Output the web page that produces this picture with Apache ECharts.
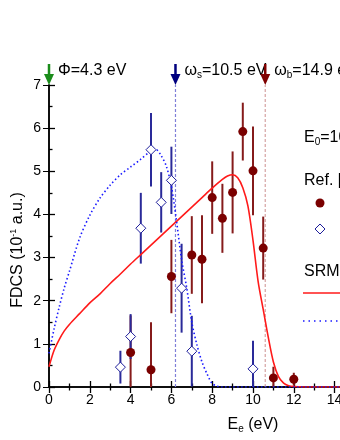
<!DOCTYPE html>
<html>
<head>
<meta charset="utf-8">
<title>FDCS</title>
<script src="https://cdn.jsdelivr.net/npm/echarts@6/dist/echarts.min.js"></script>
<style>
  html, body { margin: 0; padding: 0; background: #fff; overflow: hidden; }
  #chart { width: 480px; height: 440px; }
</style>
</head>
<body>
<div id="chart"></div>
<script>
// experiment, Ref. (filled circles)
const refAX = [4, 5, 6, 7, 7.5, 8, 8.5, 9, 9.5, 10, 10.5, 11, 12];
const refAY = [0.8, 0.4, 2.56, 3.06, 2.96, 4.39, 3.91, 4.51, 5.92, 5.01, 3.22, 0.21, 0.18];
const refAErr = [0.86, 1.1, 0.85, 0.9, 1.02, 0.84, 0.8, 0.95, 0.67, 1.03, 0.73, 0.26, 0.15];

// experiment, open diamonds
const refBX = [3.5, 4, 4.5, 5, 5.5, 6, 6.5, 7, 10];
const refBY = [0.46, 1.17, 3.68, 5.5, 4.28, 4.79, 2.29, 0.83, 0.42];
const refBErr = [0.38, 0.52, 0.82, 0.85, 0.7, 0.78, 1.03, 0.82, 0.65];

// SRM, solid red
const srmX = [0, 0.25, 0.5, 0.75, 1, 1.5, 2, 2.5, 3, 3.5, 4, 4.5, 5, 5.5, 6, 6.5, 7, 7.5, 8, 8.5, 8.75, 9, 9.25, 9.5, 9.75, 10, 10.25, 10.5, 10.75, 11, 11.25, 11.5, 11.75, 12, 12.5, 14, 20];
const srmY = [0.47, 0.85, 1.1, 1.3, 1.45, 1.7, 1.95, 2.16, 2.4, 2.62, 2.85, 3.07, 3.29, 3.51, 3.73, 3.95, 4.17, 4.39, 4.61, 4.81, 4.89, 4.92, 4.85, 4.62, 4.2, 3.4, 2.45, 1.8, 1.15, 0.58, 0.24, 0.09, 0.03, 0.01, 0, 0, 0];

// second model, blue dotted
const dotX = [0, 0.25, 0.5, 0.75, 1, 1.5, 2, 2.5, 3, 3.5, 4, 4.5, 5, 5.25, 5.5, 5.75, 6, 6.25, 6.5, 6.75, 7, 7.25, 7.5, 7.75, 8, 8.25, 8.5, 10, 20];
const dotY = [0.78, 1.35, 1.85, 2.3, 2.68, 3.45, 3.98, 4.38, 4.68, 4.92, 5.1, 5.28, 5.47, 5.5, 5.36, 5.12, 4.65, 3.85, 2.95, 2.3, 1.5, 0.98, 0.58, 0.3, 0.08, 0.02, 0, 0, 0];

// thresholds (E - 4.3 eV), arrows on top
const markX = [0, 6.2, 10.6];
const markLabels = ['Φ=4.3 eV', '{w|ω}{sub|s}=10.5 eV', '{w|ω}{sub|b}=14.9 eV'];
const markColors = ['#1a8c1a', '#00007f', '#7f0000'];
const lineColors = [null, '#7f7fd8', '#d4a2a2'];

const FONT = 'Liberation Sans, Arial, sans-serif';
const rich = {
  w: { fontSize: 16, fontFamily: FONT, color: '#000' },
  sub: { fontSize: 10, fontFamily: FONT, color: '#000', padding: [9, 0, 0, 0] }
};

const chart = echarts.init(document.getElementById('chart'));

function pairs (xs, ys) {
  return xs.map((x, i) => [x, ys[i]]);
}

function errorBars (xs, ys, errs, color) {
  return {
    type: 'custom',
    data: xs.map((x, i) => [x, ys[i] - errs[i], ys[i] + errs[i]]),
    encode: { x: 0, y: [1, 2] },
    clip: true,
    z: 3,
    renderItem (params, api) {
      const hi = api.coord([api.value(0), api.value(2)]);
      const lo = api.coord([api.value(0), Math.max(api.value(1), 0)]);
      return {
        type: 'line',
        shape: { x1: hi[0], y1: hi[1], x2: lo[0], y2: lo[1] },
        style: { stroke: color, lineWidth: 2 }
      };
    }
  };
}

const series = [];

// dashed verticals at the thresholds
markX.forEach((x, i) => {
  if (!lineColors[i]) return;
  series.push({
    type: 'line',
    data: [[x, 0], [x, 7]],
    showSymbol: false,
    silent: true,
    z: 1,
    lineStyle: { color: lineColors[i], width: 1.2, type: [3, 2] }
  });
});

series.push({
  type: 'line',
  data: pairs(srmX, srmY),
  smooth: 0.3,
  showSymbol: false,
  z: 4,
  lineStyle: { color: '#ff1a1a', width: 1.6 }
});

series.push({
  type: 'line',
  data: pairs(dotX, dotY),
  smooth: 0.3,
  showSymbol: false,
  z: 5,
  lineStyle: { color: '#1a1aff', width: 1.6, type: [1.5, 2.5] }
});

series.push(errorBars(refAX, refAY, refAErr, '#861b1b'));
series.push(errorBars(refBX, refBY, refBErr, '#2a2a99'));

series.push({
  type: 'scatter',
  data: pairs(refAX, refAY),
  symbol: 'circle',
  symbolSize: 9,
  z: 6,
  itemStyle: { color: '#7a0000', opacity: 1 }
});

series.push({
  type: 'scatter',
  data: pairs(refBX, refBY),
  symbol: 'diamond',
  symbolSize: [10, 10],
  z: 6,
  itemStyle: { color: '#fff', borderColor: '#1c1c9a', borderWidth: 1, opacity: 1 }
});

// arrows above the frame
series.push({
  type: 'custom',
  data: markX.map((x, i) => [x, i]),
  clip: false,
  z: 10,
  renderItem (params, api) {
    const i = api.value(1);
    const p = api.coord([api.value(0), 7]);
    const c = markColors[i];
    return {
      type: 'group',
      children: [
        { type: 'line', shape: { x1: p[0], y1: p[1] - 21, x2: p[0], y2: p[1] - 9 }, style: { stroke: c, lineWidth: 2.5 } },
        { type: 'polygon', shape: { points: [[p[0] - 5, p[1] - 11], [p[0] + 5, p[1] - 11], [p[0], p[1]]] }, style: { fill: c } },
        { type: 'text', x: p[0] + 9, y: p[1] - 14,
          style: { text: markLabels[i], rich: rich, font: '16px ' + FONT, fill: '#000', verticalAlign: 'middle' } }
      ]
    };
  }
});

const axisLine = { lineStyle: { color: '#000', width: 1.5 } };

const option = {
  animation: false,
  textStyle: { fontFamily: FONT },
  grid: { left: 49, top: 85, width: 408, height: 302 },
  xAxis: [
    {
      type: 'value', min: 0, max: 20, interval: 2, position: 'bottom',
      axisLine: axisLine,
      axisTick: { inside: true, length: 6, lineStyle: { color: '#000', width: 1.3 } },
      minorTick: { show: true, splitNumber: 2, length: 3.5, lineStyle: { color: '#000', width: 1.3 } },
      splitLine: { show: false },
      axisLabel: { fontSize: 14, color: '#000', margin: 6 },
      name: 'E{sub|e} (eV)',
      nameLocation: 'middle',
      nameGap: 28,
      nameTextStyle: { fontSize: 16, color: '#000', rich: rich }
    },
    {
      type: 'value', min: 0, max: 20, interval: 2, position: 'top',
      axisLine: axisLine,
      axisTick: { inside: true, length: 6, lineStyle: { color: '#000', width: 1.3 } },
      minorTick: { show: true, splitNumber: 2, length: 3.5, lineStyle: { color: '#000', width: 1.3 } },
      splitLine: { show: false },
      axisLabel: { show: false }
    }
  ],
  yAxis: [
    {
      type: 'value', min: 0, max: 7, interval: 1, position: 'left',
      axisLine: axisLine,
      axisTick: { inside: true, length: 6, lineStyle: { color: '#000', width: 1.3 } },
      minorTick: { show: true, splitNumber: 2, length: 3.5, lineStyle: { color: '#000', width: 1.3 } },
      splitLine: { show: false },
      axisLabel: { fontSize: 14, color: '#000', margin: 8 }
    },
    {
      type: 'value', min: 0, max: 7, interval: 1, position: 'right',
      axisLine: axisLine,
      axisTick: { inside: true, length: 6 },
      splitLine: { show: false },
      axisLabel: { show: false }
    }
  ],
  graphic: [
    {
      type: 'text', x: 18, y: 250, rotation: Math.PI / 2,
      style: {
        text: 'FDCS (10{sup|-1} a.u.)', font: '16px ' + FONT, fill: '#000',
        align: 'center', verticalAlign: 'middle',
        rich: { sup: { fontSize: 9, fontFamily: FONT, padding: [0, 0, 8, 0] } }
      }
    },
    // legend block (partly outside the window)
    { type: 'text', x: 304, y: 138, style: { text: 'E{sub|0}=100 eV', rich: rich, font: '16px ' + FONT, fill: '#000', verticalAlign: 'middle' } },
    { type: 'text', x: 304, y: 181, style: { text: 'Ref. [ ]', font: '16px ' + FONT, fill: '#000', verticalAlign: 'middle' } },
    { type: 'circle', shape: { cx: 320, cy: 203, r: 4.5 }, style: { fill: '#7a0000' } },
    { type: 'polygon', shape: { points: [[320, 224], [325, 229], [320, 234], [315, 229]] }, style: { fill: '#fff', stroke: '#1c1c9a', lineWidth: 1 } },
    { type: 'text', x: 304, y: 272, style: { text: 'SRM', font: '16px ' + FONT, fill: '#000', verticalAlign: 'middle' } },
    { type: 'line', shape: { x1: 303, y1: 293, x2: 340, y2: 293 }, style: { stroke: '#ff1a1a', lineWidth: 1.6 } },
    { type: 'line', shape: { x1: 303, y1: 321, x2: 340, y2: 321 }, style: { stroke: '#1a1aff', lineWidth: 1.6, lineDash: [1.5, 4] } }
  ],
  series: series
};

chart.setOption(option);
</script>
</body>
</html>
